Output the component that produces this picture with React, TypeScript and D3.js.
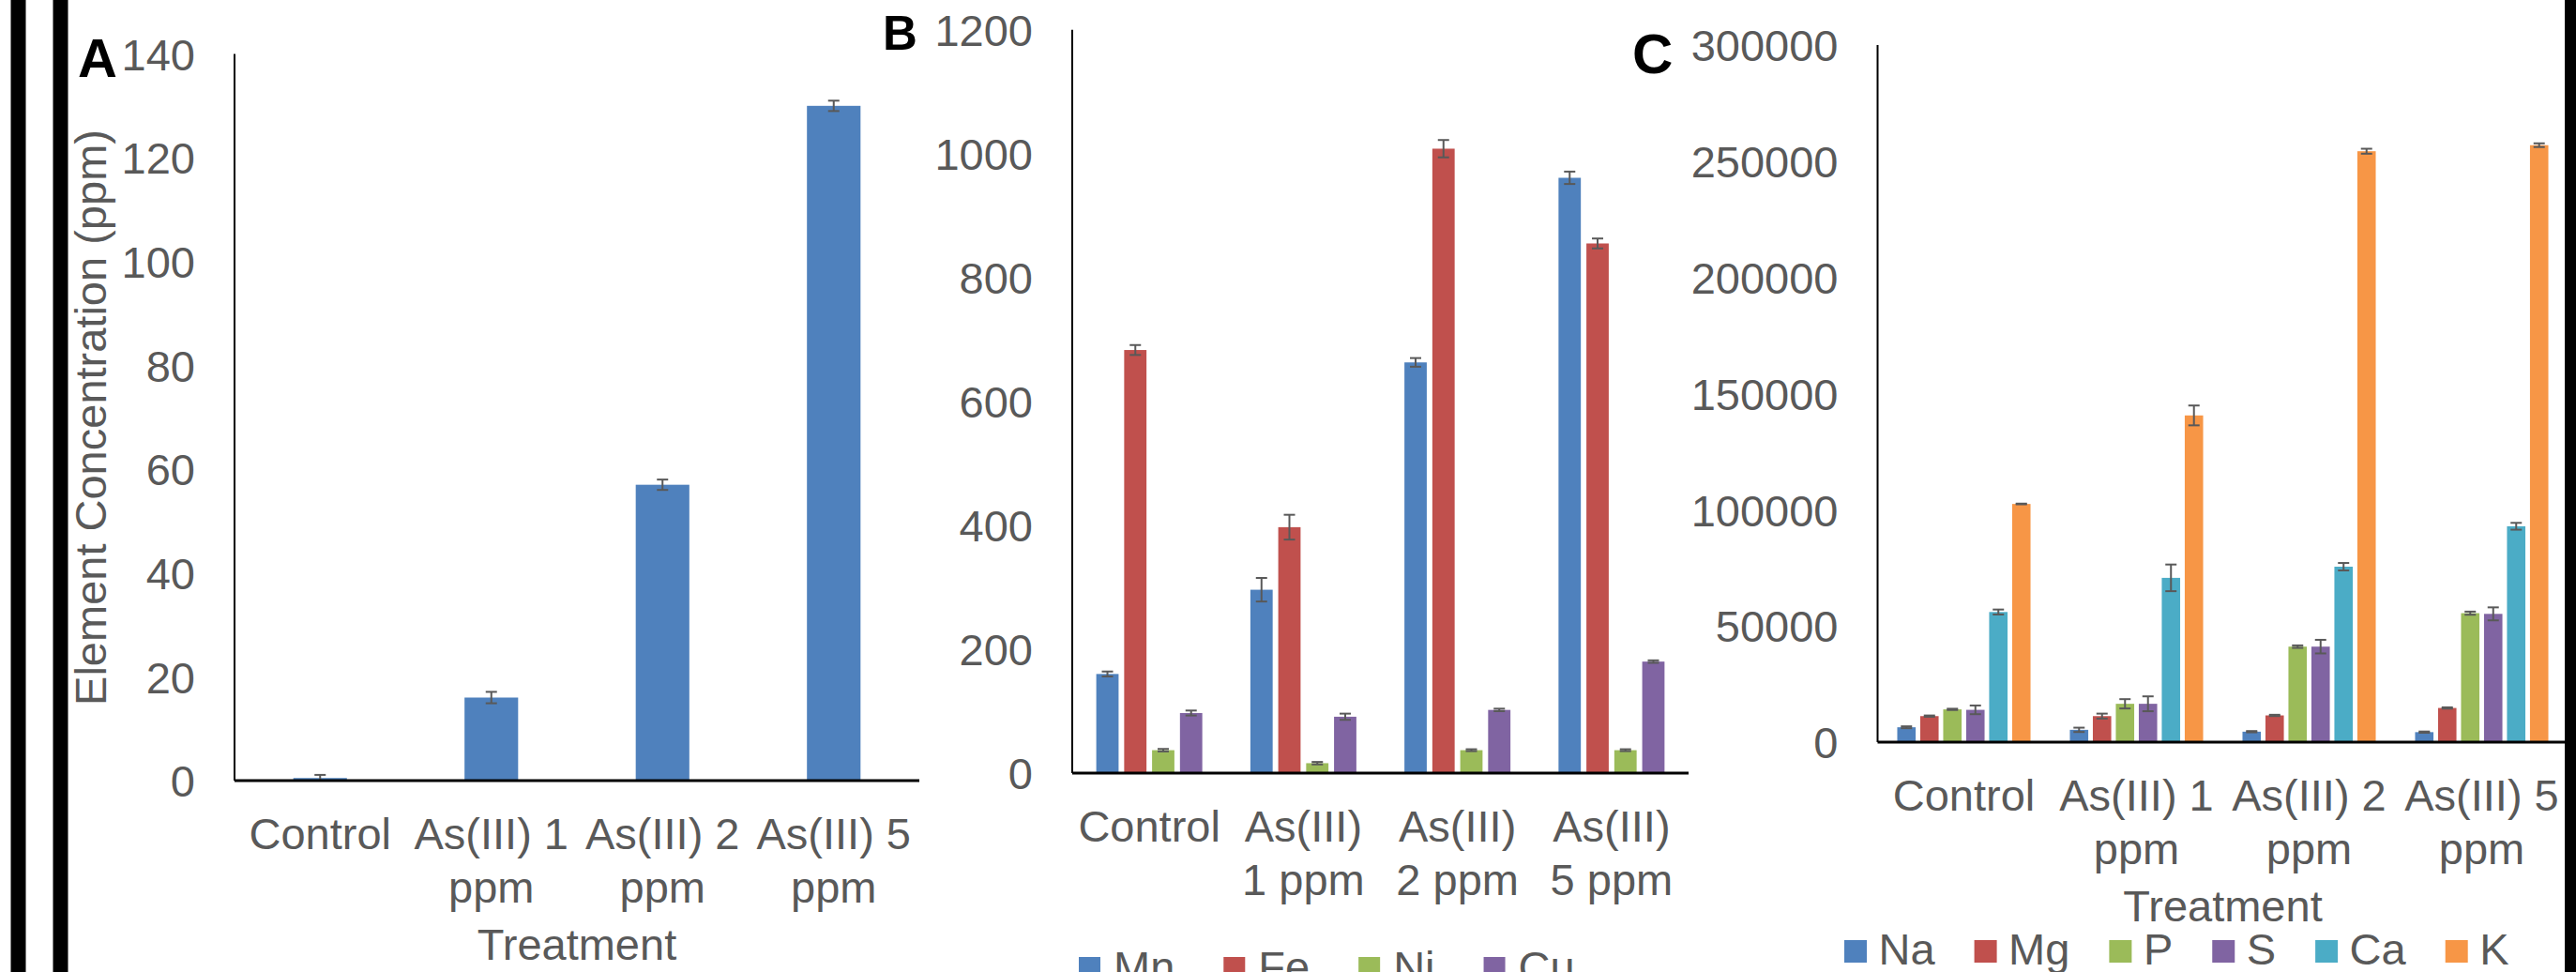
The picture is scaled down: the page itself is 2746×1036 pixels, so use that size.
import * as d3 from "d3";
import * as React from "react";

const W = 2746;
const H = 1036;
const FONT = "'Liberation Sans', Arial, sans-serif";
const TEXT = "#595959";
const ERR = "#595959";

// treatments (x categories)
const treatments = ["Control", "As(III) 1 ppm", "As(III) 2 ppm", "As(III) 5 ppm"];

// panel A - As
const asMean = [0.5, 16, 57, 130];
const asErr = [0.6, 1.1, 1, 1];
const ticksA = [0, 20, 40, 60, 80, 100, 120, 140];

// panel B - micro elements
const mnMean = [160, 296, 663, 961];
const mnErr = [4, 19, 7, 10];
const feMean = [683, 397, 1008, 855];
const feErr = [8, 20, 14, 8];
const niMean = [37, 16, 37, 37];
const niErr = [2, 2, 1.5, 1.5];
const cuMean = [97, 91, 102, 180];
const cuErr = [4, 5, 2, 2];
const ticksB = [0, 200, 400, 600, 800, 1000, 1200];

// panel C - macro elements
const naMean = [6400, 5300, 4500, 4300];
const naErr = [400, 930, 270, 270];
const mgMean = [11200, 11200, 11500, 14700];
const mgErr = [270, 1070, 270, 270];
const pMean = [14100, 16500, 41100, 55500];
const pErr = [270, 2000, 530, 670];
const sMean = [13900, 16500, 41100, 55200];
const sErr = [1870, 3200, 2930, 2800];
const caMean = [56000, 70700, 75500, 92900];
const caErr = [1070, 5740, 1600, 1470];
const kMean = [102500, 140600, 254300, 256900];
const kErr = [150, 4270, 1070, 800];
const ticksC = [0, 50000, 100000, 150000, 200000, 250000, 300000];

const blue = "#4F81BD", red = "#C0504D", green = "#9BBB59", purple = "#8064A2", teal = "#4BACC6", orange = "#F79646";

const seriesA = [{ name: "As", color: blue, mean: asMean, err: asErr }];
const seriesB = [
  { name: "Mn", color: blue, mean: mnMean, err: mnErr },
  { name: "Fe", color: red, mean: feMean, err: feErr },
  { name: "Ni", color: green, mean: niMean, err: niErr },
  { name: "Cu", color: purple, mean: cuMean, err: cuErr },
];
const seriesC = [
  { name: "Na", color: blue, mean: naMean, err: naErr },
  { name: "Mg", color: red, mean: mgMean, err: mgErr },
  { name: "P", color: green, mean: pMean, err: pErr },
  { name: "S", color: purple, mean: sMean, err: sErr },
  { name: "Ca", color: teal, mean: caMean, err: caErr },
  { name: "K", color: orange, mean: kMean, err: kErr },
];

// splits a tick label into lines that fit the given width
function wrap(texts, width, lineHeight) {
  texts.each(function () {
    const text = d3.select(this);
    const words = text.text().split(" ");
    text.text(null).attr("dy", null);
    let line = [];
    let tspan = text.append("tspan").attr("x", 0).attr("dy", 0);
    words.forEach((w) => {
      line.push(w);
      tspan.text(line.join(" "));
      if (tspan.node().getComputedTextLength() > width && line.length > 1) {
        line.pop();
        tspan.text(line.join(" "));
        line = [w];
        tspan = text.append("tspan").attr("x", 0).attr("dy", lineHeight).text(w);
      }
    });
  });
}

function drawPanel(svg, cfg, series, ticks) {
  const g = svg.append("g");

  const x0 = d3.scaleBand()
    .domain(treatments)
    .range([cfg.left, cfg.right])
    .paddingInner(cfg.groupPad)
    .paddingOuter(cfg.groupPad / 2);

  const x1 = d3.scaleBand()
    .domain(series.map((s) => s.name))
    .range([0, x0.bandwidth()])
    .paddingInner(cfg.barPad);

  const y = d3.scaleLinear()
    .domain([0, ticks[ticks.length - 1]])
    .range([cfg.bottom, cfg.top]);

  // y tick labels
  g.append("g")
    .attr("transform", `translate(${cfg.left},0)`)
    .call(d3.axisLeft(y).tickValues(ticks).tickSize(0).tickPadding(42).tickFormat(d3.format("d")))
    .call((a) => a.select(".domain").remove())
    .call((a) => a.selectAll("text")
      .attr("font-size", 47)
      .attr("font-family", FONT)
      .attr("fill", TEXT)
      .attr("dy", "0.358em"));

  // bars
  const cells = g.append("g")
    .selectAll("g")
    .data(treatments)
    .join("g")
    .attr("transform", (d) => `translate(${x0(d)},0)`)
    .selectAll("g")
    .data((d, i) => series.map((s) => ({ name: s.name, color: s.color, v: s.mean[i], e: s.err[i] })))
    .join("g");

  cells.append("rect")
    .attr("x", (d) => x1(d.name))
    .attr("y", (d) => y(d.v))
    .attr("width", x1.bandwidth())
    .attr("height", (d) => y(0) - y(d.v))
    .attr("fill", (d) => d.color);

  // error bars
  const cx = (d) => x1(d.name) + x1.bandwidth() / 2;
  cells.append("line")
    .attr("x1", cx).attr("x2", cx)
    .attr("y1", (d) => y(d.v + d.e))
    .attr("y2", (d) => y(Math.max(0, d.v - d.e)))
    .attr("stroke", ERR).attr("stroke-width", 2);
  [1, -1].forEach((sign) => {
    cells.append("line")
      .attr("x1", (d) => cx(d) - 6).attr("x2", (d) => cx(d) + 6)
      .attr("y1", (d) => y(Math.max(0, d.v + sign * d.e)))
      .attr("y2", (d) => y(Math.max(0, d.v + sign * d.e)))
      .attr("stroke", ERR).attr("stroke-width", 2);
  });

  // axis lines
  g.append("line")
    .attr("x1", cfg.left).attr("x2", cfg.left)
    .attr("y1", cfg.top).attr("y2", cfg.bottom)
    .attr("stroke", "#000").attr("stroke-width", 2);
  g.append("line")
    .attr("x1", cfg.left).attr("x2", cfg.right)
    .attr("y1", cfg.bottom).attr("y2", cfg.bottom)
    .attr("stroke", "#000").attr("stroke-width", 3);

  // category labels
  g.append("g")
    .attr("transform", `translate(0,${cfg.bottom})`)
    .call(d3.axisBottom(x0).tickSize(0).tickPadding(0))
    .call((a) => a.select(".domain").remove())
    .call((a) => a.selectAll("text")
      .attr("font-size", 47)
      .attr("font-family", FONT)
      .attr("fill", TEXT)
      .attr("y", 73)
      .call(wrap, cfg.wrapWidth, 56.5));

  if (cfg.xTitle) {
    g.append("text")
      .attr("x", (cfg.left + cfg.right) / 2)
      .attr("y", cfg.bottom + 191)
      .attr("text-anchor", "middle")
      .attr("font-size", 47).attr("font-family", FONT).attr("fill", TEXT)
      .text("Treatment");
  }
  return g;
}

function drawLegend(svg, series, lg) {
  let x = lg.x;
  series.forEach((s) => {
    svg.append("rect")
      .attr("x", x).attr("y", lg.top)
      .attr("width", lg.size).attr("height", lg.size)
      .attr("fill", s.color);
    const t = svg.append("text")
      .attr("x", x + lg.textOffset)
      .attr("y", lg.baseline)
      .attr("font-size", 47).attr("font-family", FONT).attr("fill", TEXT)
      .text(s.name);
    x += lg.textOffset + t.node().getComputedTextLength() + lg.gap;
  });
}

function panelLetter(svg, letter, x, y, size) {
  svg.append("text")
    .attr("x", x).attr("y", y)
    .attr("font-size", size).attr("font-weight", "bold")
    .attr("font-family", FONT).attr("fill", "#000")
    .text(letter);
}

export default function App() {
  const ref = React.useRef(null);

  React.useEffect(() => {
    document.body.style.margin = "0";
    const svg = d3.select(ref.current);
    svg.selectAll("*").remove();

    svg.append("rect").attr("width", W).attr("height", H).attr("fill", "#fff");

    // frame bars
    svg.append("rect").attr("x", 11.5).attr("y", 0).attr("width", 16).attr("height", H).attr("fill", "#000");
    svg.append("rect").attr("x", 56.5).attr("y", 0).attr("width", 16).attr("height", H).attr("fill", "#000");
    svg.append("rect").attr("x", 2734).attr("y", 0).attr("width", 12).attr("height", H).attr("fill", "#000");

    // A
    drawPanel(svg, { left: 250, right: 980, top: 57.5, bottom: 832, groupPad: 0.687, barPad: 0, wrapWidth: 175, xTitle: true }, seriesA, ticksA);
    svg.append("text")
      .attr("transform", "translate(113,445) rotate(-90)")
      .attr("text-anchor", "middle")
      .attr("font-size", 47).attr("font-family", FONT).attr("fill", TEXT)
      .text("Element Concentration (ppm)");
    panelLetter(svg, "A", 83, 82, 58);

    // B
    drawPanel(svg, { left: 1143, right: 1800, top: 31.7, bottom: 824, groupPad: 0.312, barPad: 0.2, wrapWidth: 150, xTitle: false }, seriesB, ticksB);
    drawLegend(svg, seriesB, { x: 1150, top: 1020, size: 23, textOffset: 37, baseline: 1047, gap: 52 });
    panelLetter(svg, "B", 941, 53, 51);

    // C
    drawPanel(svg, { left: 2001.5, right: 2737.5, top: 48, bottom: 791, groupPad: 0.228, barPad: 0.2, wrapWidth: 175, xTitle: true }, seriesC, ticksC);
    drawLegend(svg, seriesC, { x: 1966, top: 1002, size: 24, textOffset: 36.5, baseline: 1027.5, gap: 42 });
    panelLetter(svg, "C", 1740, 78, 60);

    // right frame bar drawn over the plot edge
    svg.append("rect").attr("x", 2734).attr("y", 0).attr("width", 12).attr("height", H).attr("fill", "#000");
  }, []);

  return <svg ref={ref} width={W} height={H} style={{ display: "block" }} />;
}
